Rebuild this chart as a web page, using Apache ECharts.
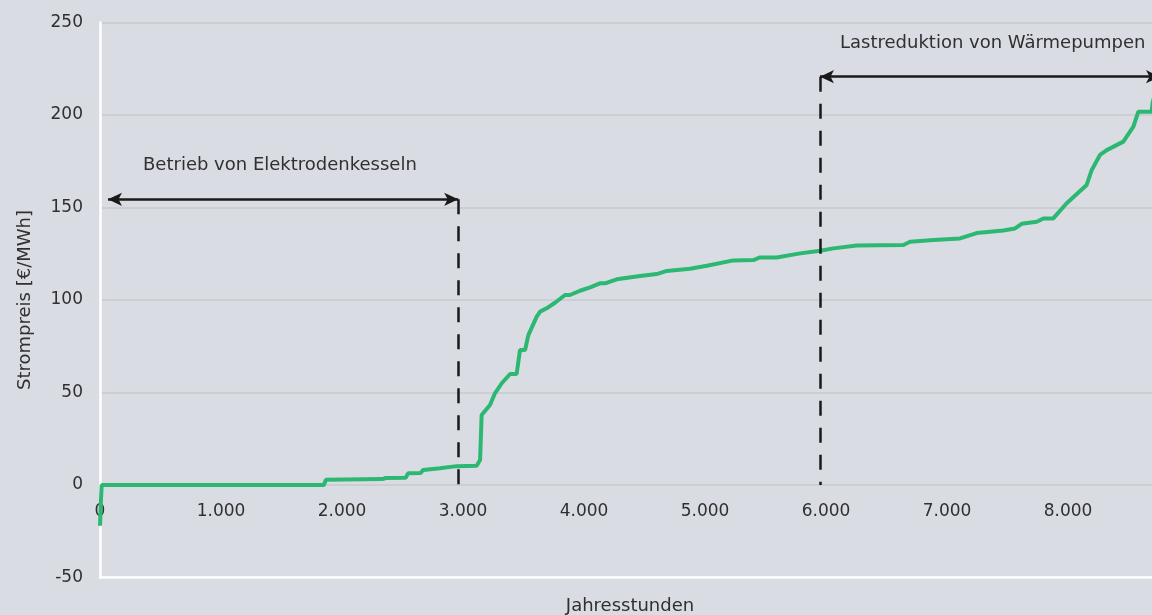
<!DOCTYPE html>
<html>
<head>
<meta charset="utf-8">
<script src="https://cdn.jsdelivr.net/npm/echarts@6/dist/echarts.min.js"></script>
<style>
html,body{margin:0;padding:0;background:#d9dce3;overflow:hidden;}
#c{width:1152px;height:615px;}
</style>
</head>
<body>
<div id="c"></div>
<script>
// Price duration curve: hours of the year vs. electricity price (€/MWh)
const hours = [0, 8, 14, 1851, 1866, 2333, 2362, 2526, 2546, 2650, 2670, 2809, 2948, 3113, 3141, 3154, 3223, 3265, 3320, 3389, 3443, 3471, 3513, 3540, 3609, 3637, 3691, 3760, 3843, 3884, 3967, 4050, 4132, 4174, 4270, 4463, 4601, 4683, 4877, 5015, 5234, 5400, 5454, 5592, 5786, 5951, 6061, 6253, 6640, 6694, 6888, 7107, 7245, 7465, 7562, 7617, 7741, 7796, 7878, 7989, 8154, 8196, 8264, 8320, 8457, 8540, 8581, 8690, 8700, 8760];
const prices = [-22, -8, 0, 0, 2.8, 3.2, 3.8, 3.9, 6.3, 6.5, 8.1, 9.0, 10.2, 10.4, 13.5, 37.8, 43.2, 49.7, 55, 60, 60, 73, 73, 81, 91, 93.7, 95.5, 98.5, 102.7, 102.7, 105, 106.8, 109, 109, 111.2, 113, 114, 115.7, 116.9, 118.5, 121.4, 121.6, 123, 123, 125.2, 126.6, 127.9, 129.5, 129.7, 131.5, 132.4, 133.3, 136.2, 137.6, 138.7, 141.2, 142.3, 144.1, 144.1, 152.3, 162.2, 170.3, 178.4, 181, 185.6, 193.7, 201.8, 201.8, 207, 220];

const xTicks = [0, 1000, 2000, 3000, 4000, 5000, 6000, 7000, 8000];
const xMax = 8760;
const yTicks = [-50, 0, 50, 100, 150, 200, 250];

// Annotation ranges [startHour, endHour, level €/MWh]
const boilerRange = [66, 2960, 154.4];
const heatPumpRange = [5950, 8760, 220.7];
const boilerLabel = 'Betrieb von Elektrodenkesseln';
const heatPumpLabel = 'Lastreduktion von Wärmepumpen';

const FONT = 'DejaVu Sans';
const TXT = '#303030';
const GRID_TOP = 22.5, GRID_BOTTOM = 37.5, H = 615;

const chart = echarts.init(document.getElementById('c'));
const fmt = v => v === 0 ? '0' : (v % 1000 === 0 ? (v / 1000) + '.000' : '');
// pixel distance from bottom of plot to the zero line
const plotH = H - GRID_TOP - GRID_BOTTOM;
const zeroOffset = plotH * (0 - yTicks[0]) / (yTicks[yTicks.length - 1] - yTicks[0]);

chart.setOption({
  backgroundColor: '#d9dce3',
  animation: false,
  grid: { left: 100, right: -8, top: GRID_TOP, bottom: GRID_BOTTOM, containLabel: false, outerBoundsMode: 'none' },
  xAxis: [{
    type: 'value', min: xTicks[0], max: xMax, interval: 1000, position: 'bottom',
    offset: -zeroOffset,
    axisLine: { show: false, onZero: false },
    axisTick: { show: false },
    splitLine: { show: false },
    axisLabel: { formatter: fmt, color: TXT, fontFamily: FONT, fontSize: 17, margin: 18, showMaxLabel: false }
  }, {
    type: 'value', min: xTicks[0], max: xMax, position: 'bottom',
    axisLine: { show: true, onZero: false, lineStyle: { color: '#ffffff', width: 2.5 } },
    axisTick: { show: false }, axisLabel: { show: false }, splitLine: { show: false },
    name: 'Jahresstunden', nameLocation: 'middle', nameGap: 20,
    nameTextStyle: { color: TXT, fontFamily: FONT, fontSize: 18 }
  }],
  yAxis: {
    type: 'value', min: yTicks[0], max: yTicks[yTicks.length - 1], interval: 50,
    axisLine: { show: true, onZero: false, lineStyle: { color: '#ffffff', width: 2.5 } },
    axisTick: { show: false },
    splitLine: { show: true, lineStyle: { color: '#cdced2', width: 2 } },
    axisLabel: { color: TXT, fontFamily: FONT, fontSize: 17, margin: 17 },
    name: 'Strompreis [€/MWh]', nameLocation: 'middle', nameGap: 66, nameRotate: 90,
    nameTextStyle: { color: TXT, fontFamily: FONT, fontSize: 18 }
  },
  series: [{
    type: 'line', xAxisIndex: 0,
    data: hours.map((h, i) => [h, prices[i]]),
    showSymbol: false, symbol: 'none',
    lineStyle: { color: '#2cb872', width: 4 },
    z: 3,
    markLine: {
      silent: true, animation: false,
      label: { show: false },
      data: [
        [{ coord: [boilerRange[0], boilerRange[2]], symbol: 'arrow', symbolSize: [10, 14], lineStyle: { type: 'solid', width: 2.5, color: '#1a1a1a' } },
         { coord: [boilerRange[1], boilerRange[2]], symbol: 'arrow', symbolSize: [10, 14] }],
        [{ coord: [boilerRange[1], boilerRange[2]], symbol: 'none', lineStyle: { type: [15, 12], width: 2.5, color: '#1a1a1a' } },
         { coord: [boilerRange[1], 0], symbol: 'none' }],
        [{ coord: [heatPumpRange[0], heatPumpRange[2]], symbol: 'arrow', symbolSize: [10, 14], lineStyle: { type: 'solid', width: 2.5, color: '#1a1a1a' } },
         { coord: [heatPumpRange[1], heatPumpRange[2]], symbol: 'arrow', symbolSize: [10, 14] }],
        [{ coord: [heatPumpRange[0], heatPumpRange[2]], symbol: 'none', lineStyle: { type: [15, 12], width: 2.5, color: '#1a1a1a' } },
         { coord: [heatPumpRange[0], 0], symbol: 'none' }]
      ]
    }
  }],
  graphic: [
    { type: 'text', left: 143, top: 156, style: { text: boilerLabel, fill: TXT, font: '18px "' + FONT + '"' } },
    { type: 'text', left: 840, top: 34, style: { text: heatPumpLabel, fill: TXT, font: '18px "' + FONT + '"' } }
  ]
});
</script>
</body>
</html>
